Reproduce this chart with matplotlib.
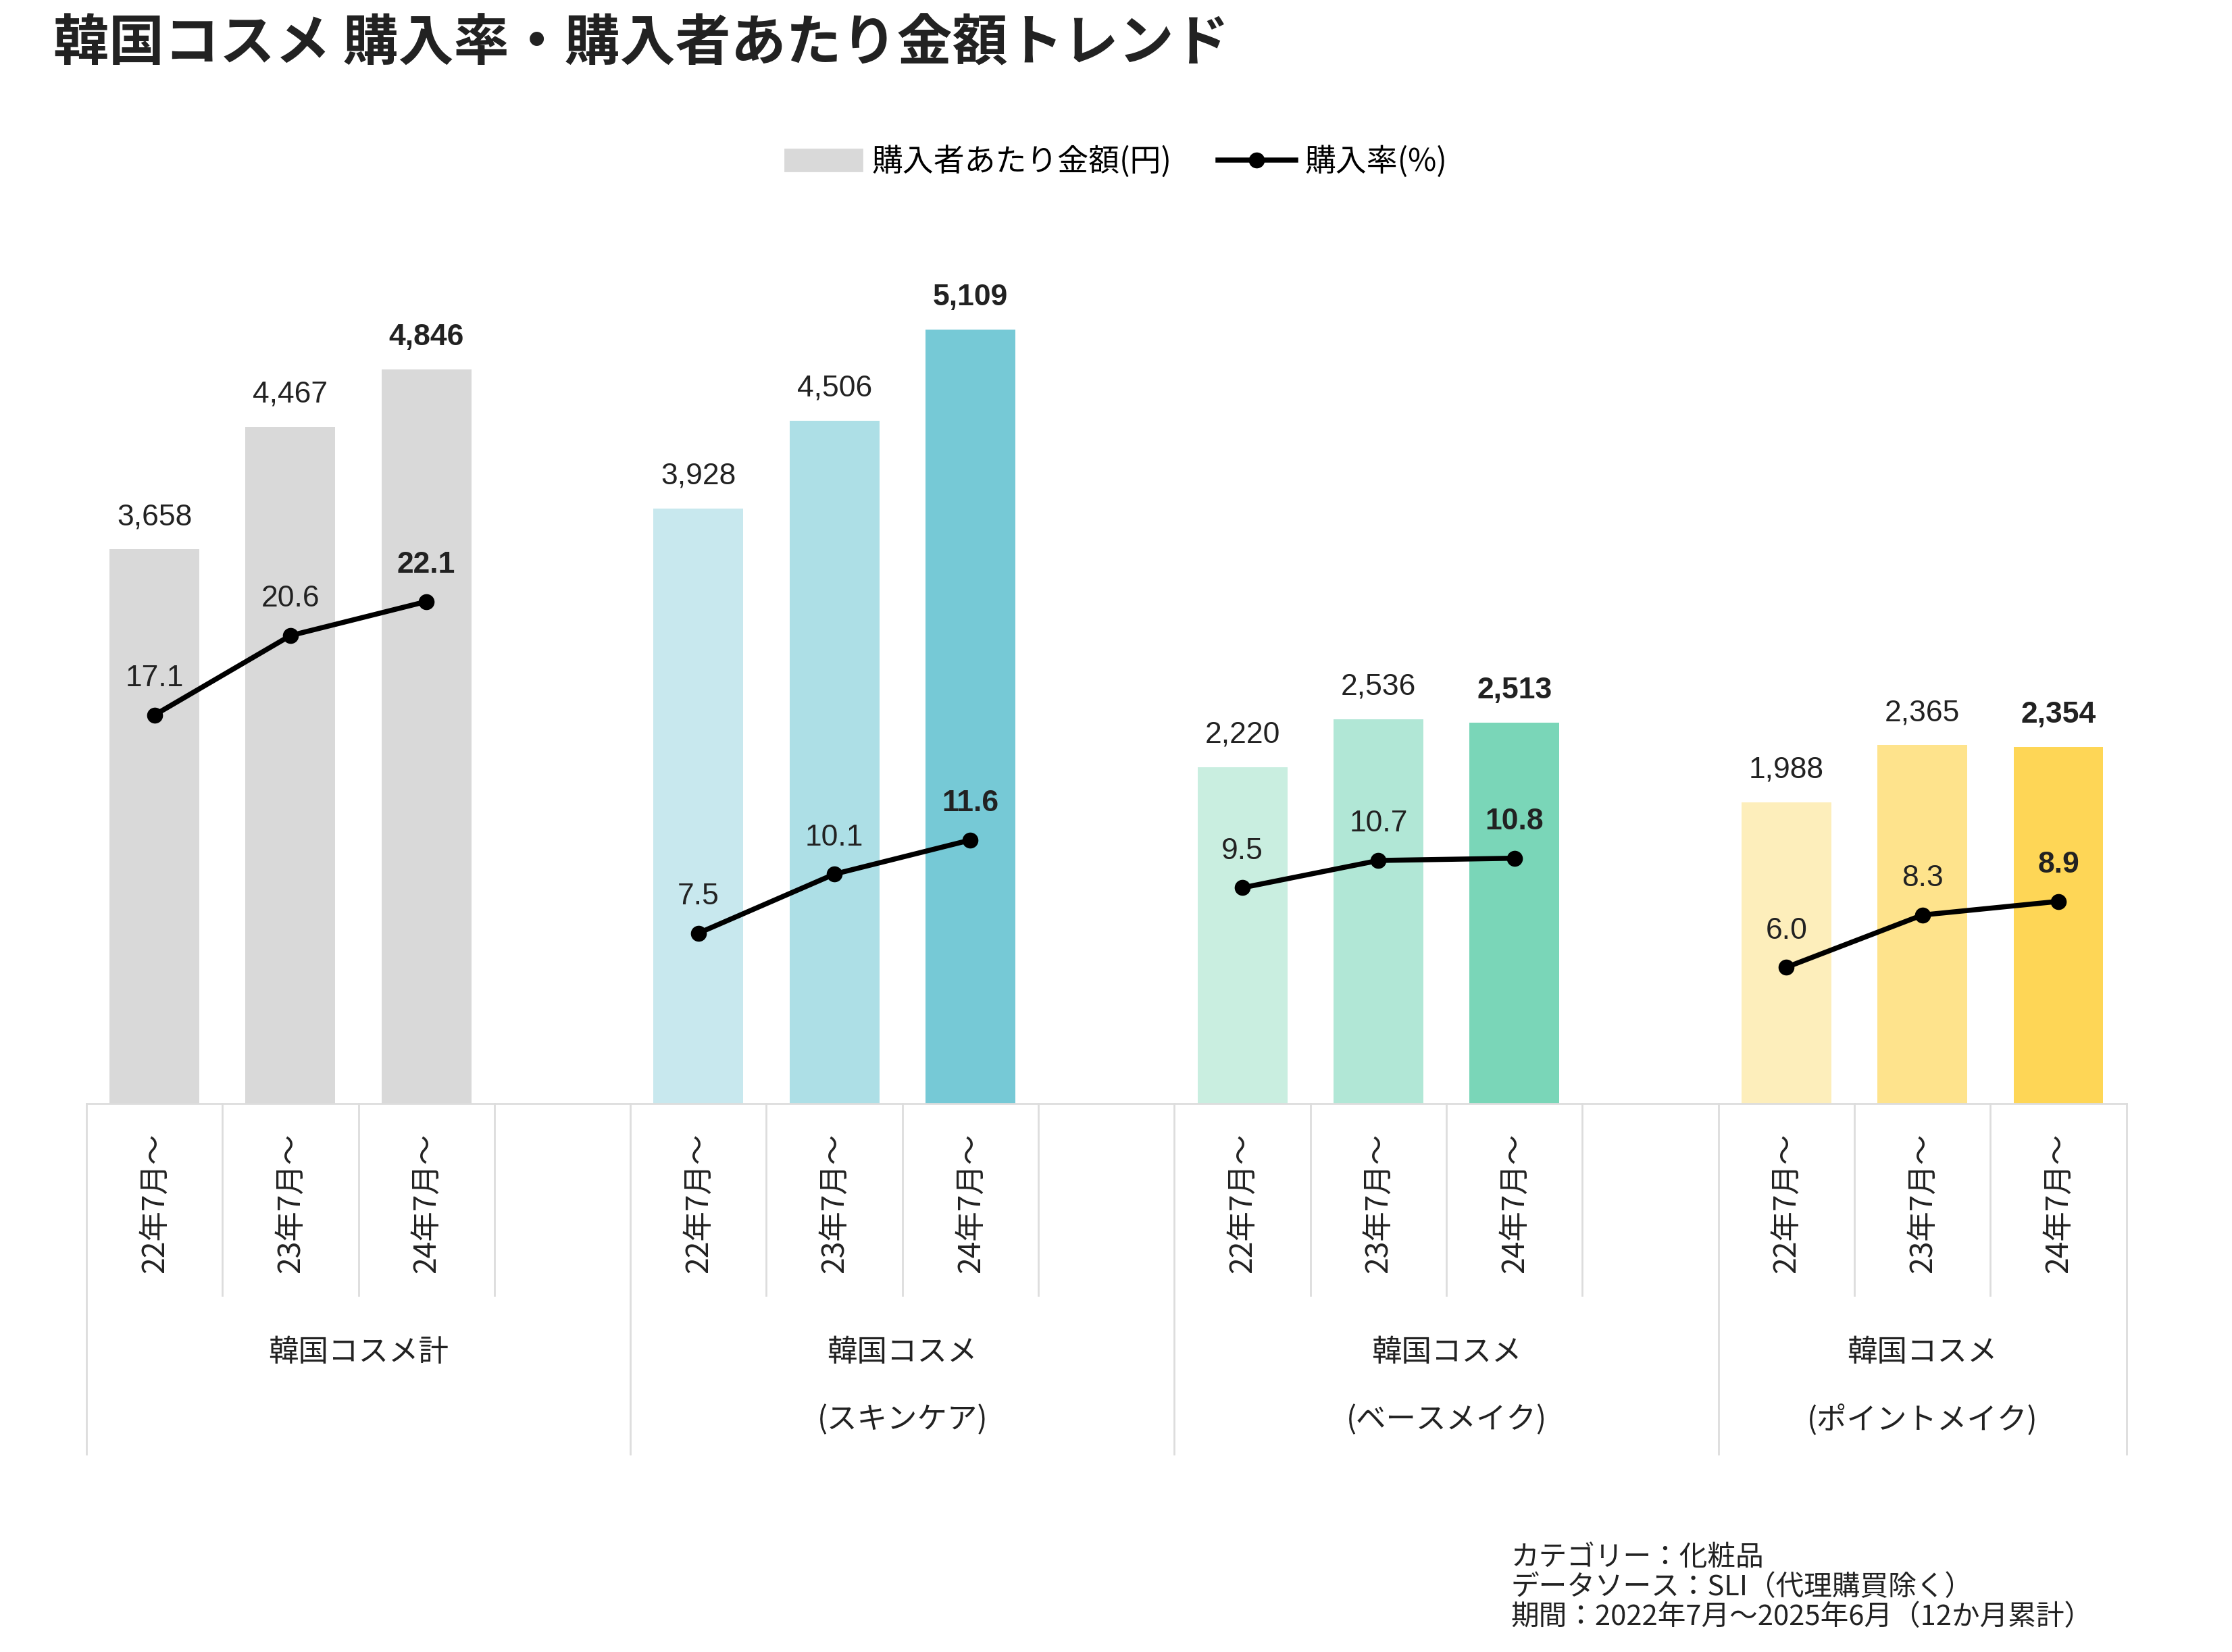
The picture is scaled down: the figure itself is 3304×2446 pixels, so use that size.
import matplotlib.pyplot as plt
from matplotlib.patches import Patch
from matplotlib.lines import Line2D

plt.rcParams['font.family'] = ['Noto Sans CJK JP']

groups = ['韓国コスメ計', '韓国コスメ\n(スキンケア)', '韓国コスメ\n(ベースメイク)', '韓国コスメ\n(ポイントメイク)']
periods = ['22年7月～', '23年7月～', '24年7月～']
amount = [[3658, 4467, 4846], [3928, 4506, 5109], [2220, 2536, 2513], [1988, 2365, 2354]]
rate = [[17.1, 20.6, 22.1], [7.5, 10.1, 11.6], [9.5, 10.7, 10.8], [6.0, 8.3, 8.9]]
colors = [['#d9d9d9', '#d9d9d9', '#d9d9d9'],
          ['#c8e8ee', '#addfe6', '#76c9d6'],
          ['#c9eee0', '#b1e7d6', '#7ad6b8'],
          ['#fdeebb', '#fee38c', '#fed656']]

fig = plt.figure(figsize=(16.52, 12.23), dpi=200)
ax = fig.add_axes([0.0387, 0.332, 0.914, 0.5115])
ax2 = ax.twinx()
ax.set_xlim(0, 15)
ax.set_ylim(0, 5576)
ax2.set_ylim(0, 37.2)
for a in (ax, ax2):
    a.axis('off')
ax.set_zorder(1)
ax2.set_zorder(2)

tr = ax.get_xaxis_transform()
for g in range(4):
    xs = [g * 4 + i + 0.5 for i in range(3)]
    for i in range(3):
        bold = 'bold' if i == 2 else 'normal'
        ax.bar(xs[i], amount[g][i], width=0.66, color=colors[g][i])
        ax.text(xs[i], amount[g][i] + 120, f'{amount[g][i]:,}', ha='center', va='bottom',
                fontsize=16, fontweight=bold, family='Liberation Sans', color='#222222')
        ax2.text(xs[i], rate[g][i] + 1.0, f'{rate[g][i]:.1f}', ha='center', va='bottom',
                 fontsize=16, fontweight=bold, family='Liberation Sans', color='#222222')
        ax.text(xs[i], -0.035, periods[i], rotation=90, ha='center', va='top',
                transform=tr, fontsize=16, color='#222222', clip_on=False)
    ax2.plot(xs, rate[g], color='black', lw=2.7, marker='o', ms=7.5, clip_on=False)
    lines = groups[g].split('\n')
    cx = g * 4 + 2 if g < 3 else 13.5
    for k, t in enumerate(lines):
        ax.text(cx, -0.294 - 0.08 * k, t, ha='center', va='center', transform=tr,
                fontsize=16, color='#222222', clip_on=False)

# category axis frame lines
ax.plot([0, 15], [0, 0], color='#dddddd', lw=1, transform=tr, clip_on=False)
for s in range(16):
    bottom = -0.415 if s % 4 == 0 or s == 15 else -0.227
    ax.plot([s, s], [0, bottom], color='#dddddd', lw=1, transform=tr, clip_on=False)

fig.text(0.024, 0.973, '韓国コスメ 購入率・購入者あたり金額トレンド', fontsize=29.5,
         fontweight='bold', va='center', color='#222222')
handles = [Patch(color='#d9d9d9', label='購入者あたり金額(円)'),
           Line2D([], [], color='black', lw=2.7, marker='o', ms=7.5, label='購入率(%)')]
fig.legend(handles=handles, loc='center', bbox_to_anchor=(0.5, 0.902), ncol=2,
           frameon=False, fontsize=16.5, handlelength=2.5, handletextpad=0.3, columnspacing=1.5)
fig.text(0.677, 0.039, 'カテゴリー：化粧品\nデータソース：SLI（代理購買除く）\n期間：2022年7月～2025年6月（12か月累計）',
         fontsize=15, va='center', ha='left', linespacing=1.1, color='#222222')

fig.savefig('out.png', dpi=200)
